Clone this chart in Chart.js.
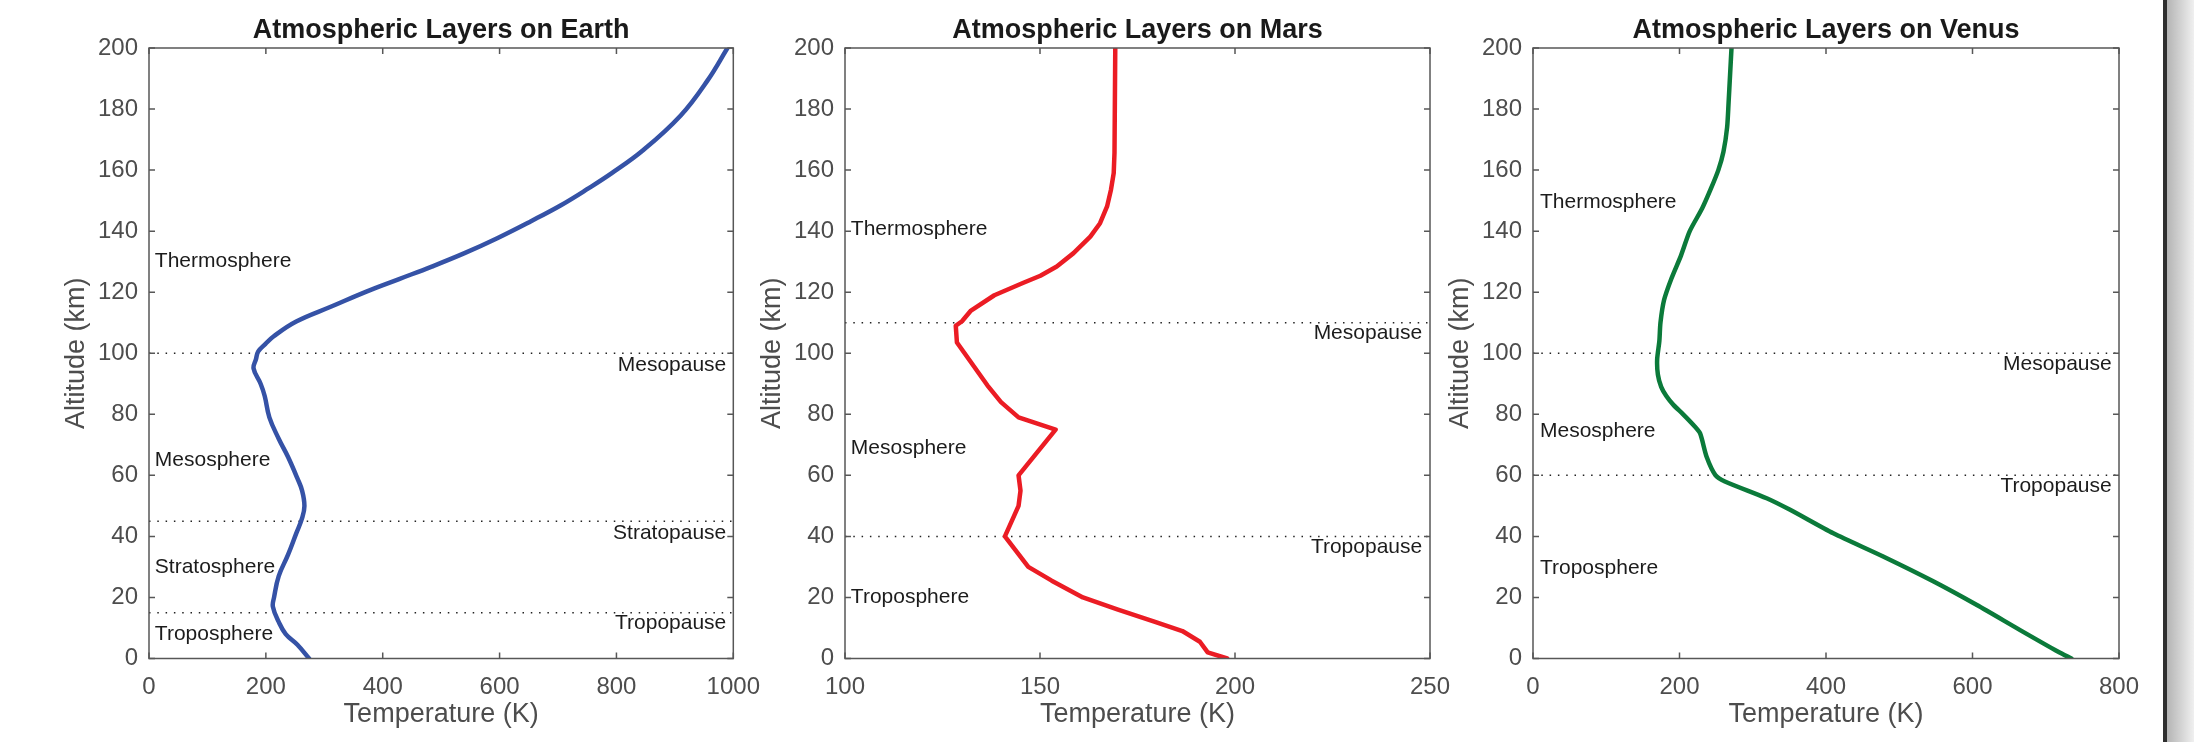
<!DOCTYPE html>
<html>
<head>
<meta charset="utf-8">
<script src="https://cdn.jsdelivr.net/npm/chart.js@4.4.1/dist/chart.umd.min.js"></script>
<style>
  html, body { margin: 0; padding: 0; background: #fff; }
  body { width: 2194px; height: 742px; position: relative; overflow: hidden; }
  .panel { position: absolute; top: 0; }
  #edge { position: absolute; left: 2163px; top: 0; width: 4px; height: 742px; background: #2e2e2e; }
  #shade { position: absolute; left: 2167px; top: 0; width: 27px; height: 742px; background: linear-gradient(to right, #b4b4b4, #f0f0f0); }
</style>
</head>
<body>
<canvas id="earth" class="panel" width="735" height="742" style="left:39px"></canvas>
<canvas id="mars" class="panel" width="735" height="742" style="left:735px"></canvas>
<canvas id="venus" class="panel" width="736" height="742" style="left:1423px"></canvas>
<div id="edge"></div>
<div id="shade"></div>
<script>
// altitude in km, temperature in K
const earthAlt  = [0, 4.5, 8, 12, 17, 20, 27, 34, 41, 46, 50, 55, 59, 66, 72, 79, 86, 90, 95, 98, 100.6, 103, 105.5, 110.4, 115.3, 120.2, 124.3, 128.4, 132.8, 137.7, 143.2, 148.5, 154, 159, 166.4, 177.9, 189.4, 200];
const earthTemp = [274, 254, 234, 222, 212, 214, 222, 238, 252, 262, 266, 262, 254, 238, 222, 206, 198, 191, 179, 183, 187, 199, 213, 252, 312, 372, 428, 484, 540, 596, 653, 705, 752, 792, 845, 910, 956, 990];

const marsAlt  = [0, 2, 5.5, 9, 12, 16, 20, 25.5, 30, 40, 50, 55, 60, 75, 79, 84, 89.5, 103.5, 109, 110.5, 114, 119, 123, 125.4, 128.4, 132.8, 138.2, 142.6, 148.1, 153.6, 159, 165.6, 200];
const marsTemp = [198, 193, 191, 186.5, 179.5, 170, 161, 153, 147, 141, 144.5, 145, 144.5, 154, 144.5, 140, 136.5, 128.7, 128.4, 130, 132.3, 138.3, 145.6, 150.1, 154.3, 158.6, 162.9, 165.4, 167.2, 168.2, 168.9, 169.1, 169.3];

const venusAlt  = [0, 2.2, 9.3, 17.5, 25.2, 33.4, 41, 48.7, 52.5, 58, 60.1, 66.1, 73.8, 76.5, 80, 83, 86, 89, 93, 98, 104, 110, 117.5, 124.5, 132, 140, 147.5, 154, 160, 166, 174, 182, 191, 200];
const venusTemp = [735, 717, 665, 606, 547, 478, 410, 351, 319, 262, 249, 237, 228, 219, 205, 192, 182, 175, 170.5, 169.5, 172.5, 174, 179, 189, 202, 214, 231, 243, 253, 260, 265, 267, 269, 271];

// axis ranges [min, max, step]
const altAxis   = [0, 200, 20];
const earthAxis = [0, 1000, 200];
const marsAxis  = [100, 250, 50];
const venusAxis = [0, 800, 200];

// boundaries (dotted lines) and labels
const earthPauses   = ['Mesopause', 'Stratopause', 'Tropopause'];
const earthPauseAlt = [100, 45, 15];
const earthPauseLabelAlt = [96, 41, 11.5];
const earthLayers   = ['Thermosphere', 'Mesosphere', 'Stratosphere', 'Troposphere'];
const earthLayerAlt = [130, 65, 30, 8];

const marsPauses   = ['Mesopause', 'Tropopause'];
const marsPauseAlt = [110, 40];
const marsPauseLabelAlt = [106.5, 36.5];
const marsLayers   = ['Thermosphere', 'Mesosphere', 'Troposphere'];
const marsLayerAlt = [140.5, 69, 20];

const venusPauses   = ['Mesopause', 'Tropopause'];
const venusPauseAlt = [100, 60];
const venusPauseLabelAlt = [96.5, 56.5];
const venusLayers   = ['Thermosphere', 'Mesosphere', 'Troposphere'];
const venusLayerAlt = [149.5, 74.5, 29.5];

const FONT = '"Liberation Sans", Arial, Helvetica, sans-serif';
Chart.defaults.font.family = FONT;

// box, inward ticks, layer names and title
const framePlugin = {
    id: 'frame',
    afterDraw(chart, args, opts) {
        const { ctx, chartArea: a, scales: { x, y } } = chart;
        ctx.save();
        ctx.strokeStyle = '#575757';
        ctx.lineWidth = 1.5;
        ctx.strokeRect(a.left, a.top, a.right - a.left, a.bottom - a.top);
        ctx.beginPath();
        x.ticks.forEach(t => {
            const px = x.getPixelForValue(t.value);
            ctx.moveTo(px, a.bottom); ctx.lineTo(px, a.bottom - 6);
            ctx.moveTo(px, a.top); ctx.lineTo(px, a.top + 6);
        });
        y.ticks.forEach(t => {
            const py = y.getPixelForValue(t.value);
            ctx.moveTo(a.left, py); ctx.lineTo(a.left + 6, py);
            ctx.moveTo(a.right, py); ctx.lineTo(a.right - 6, py);
        });
        ctx.stroke();

        ctx.font = '21px ' + FONT;
        ctx.fillStyle = '#1c1c1c';
        ctx.textBaseline = 'middle';
        opts.labels.forEach(l => {
            ctx.textAlign = l.align;
            ctx.fillText(l.text, x.getPixelForValue(l.x), y.getPixelForValue(l.y));
        });

        ctx.font = 'bold 27px ' + FONT;
        ctx.fillStyle = '#1a1a1a';
        ctx.textAlign = 'center';
        ctx.textBaseline = 'alphabetic';
        ctx.fillText(opts.title, (a.left + a.right) / 2, 38);
        ctx.restore();
    }
};

function makeChart(id, cfg) {
    const [xMin, xMax, xStep] = cfg.axis;
    const datasets = [{
        data: cfg.temp.map((t, i) => ({ x: t, y: cfg.alt[i] })),
        showLine: true,
        borderColor: cfg.color,
        borderWidth: 4.5,
        pointRadius: 0,
        tension: cfg.tension,
        borderCapStyle: 'round',
        borderJoinStyle: 'round'
    }];
    cfg.pauseAlt.forEach(b => {
        datasets.push({
            data: [{ x: xMin, y: b }, { x: xMax, y: b }],
            showLine: true,
            borderColor: '#222',
            borderWidth: 1.5,
            borderDash: [1.5, 6.8],
            pointRadius: 0
        });
    });

    const labels = [];
    cfg.layers.forEach((name, i) => labels.push({ text: name, x: cfg.layerX, y: cfg.layerAlt[i], align: 'left' }));
    cfg.pauses.forEach((name, i) => labels.push({ text: name, x: cfg.pauseX, y: cfg.pauseLabelAlt[i], align: 'right' }));

    const tickFont = { size: 24 };
    const titleFont = { size: 27 };
    const grey = '#4d4d4d';

    return new Chart(document.getElementById(id), {
        type: 'scatter',
        data: { datasets },
        plugins: [framePlugin],
        options: {
            responsive: false,
            animation: false,
            layout: { padding: { top: 48, right: 40, bottom: 0, left: 0 } },
            plugins: {
                legend: { display: false },
                tooltip: { enabled: false },
                frame: { labels, title: cfg.title }
            },
            scales: {
                x: {
                    type: 'linear',
                    min: xMin,
                    max: xMax,
                    grid: { display: false, drawTicks: false },
                    border: { display: false },
                    ticks: { stepSize: xStep, color: grey, font: tickFont, padding: 14, maxRotation: 0, autoSkip: false, format: { useGrouping: false } },
                    title: { display: true, text: 'Temperature (K)', color: grey, font: titleFont, padding: { top: 0, bottom: 11 } },
                    afterFit(s) { s.height = 83.5; }
                },
                y: {
                    type: 'linear',
                    min: altAxis[0],
                    max: altAxis[1],
                    grid: { display: false, drawTicks: false },
                    border: { display: false },
                    ticks: { stepSize: altAxis[2], color: grey, font: tickFont, padding: 11, autoSkip: false },
                    title: { display: true, text: 'Altitude (km)', color: grey, font: titleFont, padding: { top: 21.6, bottom: 0 } },
                    afterFit(s) { s.width = 110; }
                }
            }
        }
    });
}

makeChart('earth', {
    title: 'Atmospheric Layers on Earth', axis: earthAxis, temp: earthTemp, alt: earthAlt,
    color: '#3552a6', tension: 0.4,
    pauses: earthPauses, pauseAlt: earthPauseAlt, pauseLabelAlt: earthPauseLabelAlt, pauseX: 988,
    layers: earthLayers, layerAlt: earthLayerAlt, layerX: 10
});
makeChart('mars', {
    title: 'Atmospheric Layers on Mars', axis: marsAxis, temp: marsTemp, alt: marsAlt,
    color: '#eb1c24', tension: 0,
    pauses: marsPauses, pauseAlt: marsPauseAlt, pauseLabelAlt: marsPauseLabelAlt, pauseX: 248,
    layers: marsLayers, layerAlt: marsLayerAlt, layerX: 101.5
});
makeChart('venus', {
    title: 'Atmospheric Layers on Venus', axis: venusAxis, temp: venusTemp, alt: venusAlt,
    color: '#0b7a3a', tension: 0.25,
    pauses: venusPauses, pauseAlt: venusPauseAlt, pauseLabelAlt: venusPauseLabelAlt, pauseX: 790,
    layers: venusLayers, layerAlt: venusLayerAlt, layerX: 9.5
});
</script>
</body>
</html>
